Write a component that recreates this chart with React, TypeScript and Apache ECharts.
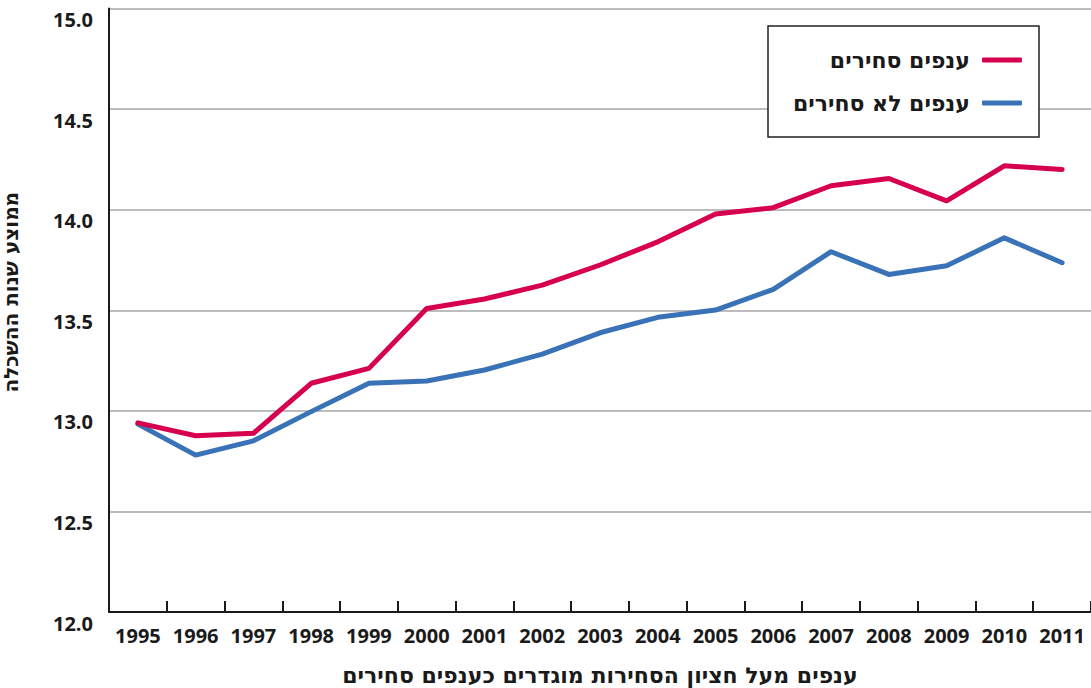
import React, { useEffect, useRef } from "react";
import * as echarts from "echarts";

const years = ["1995","1996","1997","1998","1999","2000","2001","2002","2003","2004","2005","2006","2007","2008","2009","2010","2011"];
const tradedName = "ענפים סחירים";
const nonTradedName = "ענפים לא סחירים";
const traded = [12.94, 12.876, 12.888, 13.137, 13.211, 13.509, 13.556, 13.625, 13.725, 13.84, 13.978, 14.01, 14.119, 14.155, 14.044, 14.218, 14.2];
const nonTraded = [12.934, 12.78, 12.851, 12.996, 13.137, 13.148, 13.203, 13.282, 13.388, 13.465, 13.501, 13.604, 13.791, 13.678, 13.721, 13.86, 13.736];
const yAxisTitle = "ממוצע שנות ההשכלה";
const xAxisTitle = "ענפים מעל חציון הסחירות מוגדרים כענפים סחירים";

const FONT = "'Open Sans', 'Liberation Sans', 'DejaVu Sans', sans-serif";
const HEB_FONT = "'DejaVu Sans', sans-serif";

export default function App() {
  const ref = useRef<HTMLDivElement>(null);
  useEffect(() => {
    if (!ref.current) return;
    const chart = echarts.init(ref.current, null, { renderer: "svg" });
    chart.setOption({
      animation: false,
      textStyle: { fontFamily: FONT },
      grid: { left: 109, right: 0, top: 8.5, bottom: 76, containLabel: false, outerBoundsMode: "none" },
      legend: {
        orient: "vertical",
        right: 52,
        top: 26,
        align: "right",
        icon: "roundRect",
        itemWidth: 40,
        itemHeight: 5,
        itemGap: 19,
        padding: [22, 17, 22, 24],
        borderColor: "#222",
        borderWidth: 1.5,
        backgroundColor: "#fff",
        textStyle: {
          fontFamily: HEB_FONT,
          fontSize: 22,
          fontWeight: "bold",
          color: "#1a1a1a",
          width: 178,
          lineHeight: 24,
          padding: [0, 7, 0, 0],
        },
        data: [tradedName, nonTradedName],
      },
      xAxis: {
        type: "category",
        data: years,
        boundaryGap: true,
        axisLine: { show: true, lineStyle: { color: "#1a1a1a", width: 2 } },
        axisTick: { show: true, inside: true, length: 11, alignWithLabel: false, lineStyle: { color: "#1a1a1a", width: 2 } },
        axisLabel: { fontFamily: FONT, fontSize: 20, fontWeight: "bold", color: "#1a1a1a", margin: 13, interval: 0 },
        splitLine: { show: false },
        name: xAxisTitle,
        nameLocation: "middle",
        nameGap: 52,
        nameTextStyle: { fontFamily: HEB_FONT, fontSize: 22, fontWeight: "bold", color: "#1a1a1a" },
      },
      yAxis: {
        type: "value",
        min: 12,
        max: 15,
        interval: 0.5,
        axisLine: { show: true, lineStyle: { color: "#1a1a1a", width: 2 } },
        axisTick: { show: false },
        axisLabel: {
          fontFamily: FONT,
          fontSize: 20,
          fontWeight: "bold",
          color: "#1a1a1a",
          margin: 16,
          verticalAlign: "top",
          padding: [1, 0, 0, 0],
          formatter: (v: number) => v.toFixed(1),
        },
        splitLine: { show: true, lineStyle: { color: "#a6a6a6", width: 1.5 } },
        name: yAxisTitle,
        nameLocation: "middle",
        nameRotate: 90,
        nameGap: 88,
        nameTextStyle: { fontFamily: HEB_FONT, fontSize: 20, fontWeight: "bold", color: "#1a1a1a", padding: [0, 0, 0, 36] },
      },
      series: [
        {
          name: tradedName,
          type: "line",
          data: traded,
          symbol: "none",
          lineStyle: { color: "#d6004f", width: 5, cap: "round", join: "round" },
          itemStyle: { color: "#d6004f" },
          z: 3,
        },
        {
          name: nonTradedName,
          type: "line",
          data: nonTraded,
          symbol: "none",
          lineStyle: { color: "#3a72b7", width: 5, cap: "round", join: "round" },
          itemStyle: { color: "#3a72b7" },
          z: 2,
        },
      ],
    });
    return () => chart.dispose();
  }, []);
  return <div ref={ref} style={{ position: "absolute", left: 0, top: 0, width: 1091, height: 688 }} />;
}
